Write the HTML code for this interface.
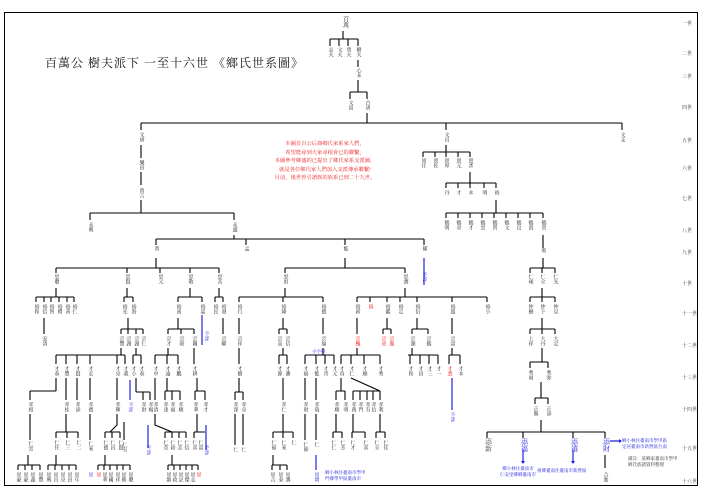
<!DOCTYPE html>
<html><head><meta charset="utf-8"><style>
body{margin:0;background:#fff}
#c{position:relative;width:702px;height:496px;overflow:hidden;background:#fff;font-family:"Liberation Serif","Noto Serif CJK SC","Noto Sans CJK SC",serif}
svg{position:absolute;left:0;top:0}
i{position:absolute;font-style:normal;writing-mode:vertical-rl;font-size:5px;line-height:5px;transform:translateX(-2.5px);color:#222;white-space:nowrap}
i.r{color:#e00}i.b{color:#22d}
.g{position:absolute;left:682px;font-size:5px;color:#333}
.t{position:absolute;left:45px;top:54px;font-size:12px;letter-spacing:1px;color:#111}
.red{position:absolute;left:268px;top:140px;width:114px;text-align:center;font-size:5.3px;line-height:8.5px;color:#e22}
.nb{position:absolute;font-size:4.5px;line-height:6px;color:#22d}
</style></head><body><div id="c">
<svg width="702" height="496">
<rect x="4.5" y="12.5" width="693" height="473" fill="none" stroke="#000" stroke-width="1"/>
<path fill="none" stroke="#000" stroke-width="1.1" d="
M343 31V39M330 39H358M330 39V46M339 39V46M348 39V46M358 39V46
M358 60V67M358 80V92M350 92H367M350 92V99M367 92V99
M367 113V123M141 123H622M141 123V130M446 123V130M622 123V130
M141 145V158M141 172V185M141 200V213M90 213H234M90 213V220M234 213V220M234 235V239M156 239H424M156 239V245M246 239V245M345 239V245M424 239V245
M446 145V152M423 152H470M423 152V157M435 152V157M446 152V157M458 152V157M470 152V157
M470 172V183M446 183H496M446 183V188M458 183V188M470 183V188M484 183V188M496 183V188
M496 200V213M446 213H543M446 213V218M458 213V218M470 213V218M482 213V218M494 213V218M506 213V218M518 213V218M530 213V218M543 213V218M543 235V248
M156 258V268M56 268H219M56 268V273M127 268V273M160 268V273M190 268V273M219 268V273
M345 258V268M285 268H405M285 268V273M405 268V273
M543 258V268M530 268H555M530 268V273M542 268V273M555 268V273
M56 288V297M36 297H74M36 297V302M44 297V302M51 297V302M59 297V302M67 297V302M74 297V302
M127 288V297M124 297H133M124 297V302M133 297V302
M190 288V297M178 297H202M178 297V302M202 297V302
M219 288V297M215 297H223M215 297V302M223 297V302
M285 288V297M239 297H323M239 297V302M283 297V302M323 297V302
M405 288V297M357 297H487M357 297V302M370 297V302M387 297V302M400 297V302M417 297V302M452 297V302M487 297V302
M542 288V297M530 297H555M530 297V302M542 297V302M555 297V302
M44 318V334M128 318V329M121 329H143M121 329V334M128 329V334M136 329V334M143 329V334
M178 318V329M168 329H194M168 329V334M181 329V334M194 329V334
M223 318V334M239 318V334M283 318V329M279 329H287M279 329V334M287 329V334M323 318V334M357 318V334
M387 318V329M383 329H391M383 329V334M391 329V334M417 318V329M412 329H428M412 329V334M428 329V334M452 318V334
M542 318V329M530 329H555M530 329V334M542 329V334M555 329V334
M121 348V355M56 355H125M56 355V364M66 355V364M77 355V364M90 355V364M117 355V364M125 355V364M136 348V355M133 355H141M133 355V364M141 355V364
M168 348V355M155 355H178M155 355V364M167 355V364M178 355V364M194 348V364
M239 348V364M283 348V355M279 355H287M279 355V364M287 355V364
M323 348V355M305 355H334M305 355V364M316 355V364M325 355V364M334 355V364
M357 348V355M341 355H380M341 355V364M351 355V364M364 355V364M380 355V364
M412 348V355M408 355H438M410 355V364M420 355V364M429 355V364M438 355V364
M452 348V355M449 355H460M449 355V364M460 355V364
M542 348V362M530 362H548M530 362V368M548 362V368M541 382V398M535 398H548M535 398V404M548 398V404
M56 378V391M30 391H56M30 391V400M66 378V400M77 378V400M90 378V400M117 378V400
M136 378V392M136 392H150M143 392V400M150 392V400
M155 378V400M167 378V391M165 391H180M165 391V400M172 391V400M180 391V400
M197 378V391M195 391H205M195 391V400M205 391V400
M239 378V392M235 392H243M235 392V400M243 392V400M283 378V400M305 378V400M316 378V400
M341 378V391M336 391H345M336 391V400M345 391V400M351 378L380 391M353 391H380M353 391V400M360 391V400M367 391V400M373 391V400M380 391V400
M30 414V440M66 414V432M56 432H78M56 432V438M67 432V438M78 432V438M90 414V440
M117 414V425L110 432M105 432H120M105 432V438M112 432V438M120 432V438M124 422V440
M155 414V425L172 432M165 432H186M165 432V438M172 432V438M179 432V438M186 432V438
M197 414V432M194 432H205M194 432V438
M235 414V445M243 414V445M283 414V432M273 432H293M273 432V438M283 432V438M293 432V438
M305 414V440M316 414V440
M336 414V432M333 432H342M333 432V438M342 432V438M353 414V432M352 432H365M352 432V438M365 432V438M380 414V432M376 432H385M376 432V438M385 432V438
M541 420V432M487 432H605M487 432V438M523 432V438M573 432V438M605 432V438
M28 455V465M18 465H40M18 465V470M25 465V470M32 465V470M40 465V470
M56 455V465M48 465H76M48 465V470M55 465V470M62 465V470M69 465V470M76 465V470
M105 455V465M98 465H130M98 465V470M104 465V470M110 465V470M117 465V470M123 465V470M130 465V470
M172 455V465M168 465H198M168 465V470M174 465V470M180 465V470M186 465V470M192 465V470M198 465V470
M273 455V465M272 465H287M272 465V470M280 465V470M287 465V470M605 455V468
"/>
<path fill="none" stroke="#22d" stroke-width="1.2" d="M424 258V285M202 315V345M452 378V410M130 380V400M148 425V448M206 425V450M316 455V470M523 450V462M573 450V462M610 441H620"/>
<path fill="#22d" d="M521 461h4l-2 3zM571 461h4l-2 3zM619 439v4l3-2z"/>
</svg>
<div class="t">百萬公 樹夫派下 一至十六世 《鄉氏世系圖》</div>
<div class="red">本圖首百公后裔鄉氏家系家人們，<br>希望能尋到大家尋根會已的聯繫，<br>本圖參考鄉盛的已提出了鄉氏家系支派圖，<br>就是各位鄉氏家人們加入支派傳承聯繫!<br>目前，後世曾引譜族的族系已到二十九世。</div>
<span class="g" style="top:20px">一世</span><span class="g" style="top:50px">二世</span><span class="g" style="top:73px">三世</span><span class="g" style="top:104px">四世</span><span class="g" style="top:137px">五世</span><span class="g" style="top:165px">六世</span><span class="g" style="top:195px">七世</span><span class="g" style="top:227px">八世</span><span class="g" style="top:249px">九世</span><span class="g" style="top:280px">十世</span><span class="g" style="top:310px">十一世</span><span class="g" style="top:342px">十二世</span><span class="g" style="top:374px">十三世</span><span class="g" style="top:406px">十四世</span><span class="g" style="top:445px">十五世</span><span class="g" style="top:478px">十六世</span>
<i style="left:343px;top:16px;font-size:6px;line-height:8px">百萬</i>
<i style="left:330px;top:47px">志夫</i><i style="left:339px;top:47px">文夫</i><i style="left:348px;top:47px">勇夫</i><i style="left:358px;top:47px">樹夫</i>
<i style="left:358px;top:68px">心本</i><i style="left:350px;top:100px">文富</i><i style="left:367px;top:100px">古唐</i>
<i style="left:141px;top:132px">文唐</i><i style="left:446px;top:132px">文昌</i><i style="left:622px;top:132px">文支</i>
<i style="left:141px;top:160px">樂田</i><i style="left:141px;top:188px">曾言</i><i style="left:90px;top:222px">永興</i><i style="left:234px;top:222px">永盛</i>
<i style="left:423px;top:158px">周任</i><i style="left:435px;top:158px">恩佐</i><i style="left:446px;top:158px">恩厚</i><i style="left:458px;top:158px">恩元</i><i style="left:470px;top:158px">恩彥</i>
<i style="left:446px;top:190px">丹</i><i style="left:458px;top:190px">才</i><i style="left:470px;top:190px">本</i><i style="left:484px;top:190px">明</i><i style="left:496px;top:190px">裕</i>
<i style="left:446px;top:220px">鶴明</i><i style="left:458px;top:220px">鶴章</i><i style="left:470px;top:220px">鶴才</i><i style="left:482px;top:220px">鶴雲</i><i style="left:494px;top:220px">鶴習</i><i style="left:506px;top:220px">鶴文</i><i style="left:518px;top:220px">鶴良</i><i style="left:530px;top:220px">鶴貴</i><i style="left:543px;top:220px">鶴常</i>
<i style="left:156px;top:246px">曾</i><i style="left:246px;top:246px">孟</i><i style="left:345px;top:246px">能</i><i style="left:424px;top:246px">耀</i><i style="left:543px;top:248px">聖</i>
<i class="b" style="left:424px;top:272px">不詳</i>
<i style="left:56px;top:274px">思聰</i><i style="left:127px;top:274px">思賢</i><i style="left:160px;top:274px">思元</i><i style="left:190px;top:274px">思敬</i><i style="left:219px;top:274px">思其</i><i style="left:285px;top:274px">思祖</i><i style="left:405px;top:274px">思潤</i>
<i style="left:530px;top:274px">仁雍</i><i style="left:542px;top:274px">仁全</i><i style="left:555px;top:274px">仁先</i>
<i style="left:36px;top:304px">裕和</i><i style="left:44px;top:304px">裕信</i><i style="left:51px;top:304px">裕智</i><i style="left:59px;top:304px">裕禮</i><i style="left:67px;top:304px">裕善</i><i style="left:74px;top:304px">裕仁</i>
<i style="left:124px;top:304px">裕光</i><i style="left:133px;top:304px">裕海</i><i style="left:178px;top:304px">裕南</i><i style="left:202px;top:304px">裕嘉</i><i style="left:215px;top:304px">裕民</i><i style="left:223px;top:304px">裕發</i>
<i style="left:239px;top:304px">裕行</i><i style="left:283px;top:304px">裕隆</i><i style="left:323px;top:304px">裕寶</i>
<i style="left:357px;top:304px">裕新</i><i class="r" style="left:370px;top:304px">裕</i><i style="left:387px;top:304px">裕鑑</i><i style="left:400px;top:304px">裕定</i><i style="left:417px;top:304px">裕衍</i><i style="left:452px;top:304px">裕超</i><i style="left:487px;top:304px">裕小</i>
<i style="left:530px;top:304px">仲樹</i><i style="left:542px;top:304px">仲下</i><i style="left:555px;top:304px">仲見</i>
<i style="left:44px;top:336px">安清</i><i style="left:121px;top:336px">宗豐</i><i style="left:128px;top:336px">宗謝</i><i style="left:136px;top:336px">宗謝</i><i style="left:143px;top:336px">宗仁</i>
<i style="left:168px;top:336px">宗才</i><i style="left:181px;top:336px">宗昭</i><i style="left:194px;top:336px">宗關</i><i style="left:223px;top:336px">宗曜</i><i style="left:239px;top:336px">宗祥</i>
<i style="left:279px;top:336px">宗高</i><i style="left:287px;top:336px">宗信</i><i style="left:323px;top:336px">宗倫</i><i class="r" style="left:357px;top:336px">宗槐</i><i class="r" style="left:383px;top:336px">宗虎</i><i class="r" style="left:391px;top:336px">宗龍</i>
<i style="left:412px;top:336px">宗湖</i><i style="left:428px;top:336px">宗鶴</i><i style="left:452px;top:336px">宗富</i>
<i style="left:530px;top:336px">上祥</i><i style="left:542px;top:336px">大丹</i><i style="left:555px;top:336px">大定</i>
<i class="b" style="left:206px;top:331px">不詳</i>
<span class="nb" style="left:312px;top:349px">小字排</span>
<i style="left:56px;top:366px">才春</i><i style="left:66px;top:366px">才豐</i><i style="left:77px;top:366px">才賢</i><i style="left:90px;top:366px">才宏</i><i style="left:117px;top:366px">才亮</i><i style="left:125px;top:366px">才義</i><i style="left:133px;top:366px">才小</i><i style="left:141px;top:366px">才春</i>
<i style="left:155px;top:366px">才中</i><i style="left:167px;top:366px">才遠</i><i style="left:178px;top:366px">才鵬</i><i style="left:194px;top:366px">才耕</i><i style="left:239px;top:366px">才樹</i>
<i style="left:279px;top:366px">才源</i><i style="left:287px;top:366px">才潮</i><i style="left:305px;top:366px">才福</i><i style="left:316px;top:366px">才能</i><i style="left:325px;top:366px">才青</i><i style="left:334px;top:366px">才元</i>
<i style="left:341px;top:366px">才真</i><i style="left:351px;top:366px">才仁</i><i style="left:364px;top:366px">才順</i><i style="left:380px;top:366px">才秀</i>
<i style="left:410px;top:366px">才和</i><i style="left:420px;top:366px">才田</i><i style="left:429px;top:366px">才三</i><i style="left:438px;top:366px">才一</i><i class="r" style="left:449px;top:366px">才悉</i><i style="left:460px;top:366px">才本</i>
<i style="left:530px;top:370px">秀雨</i><i style="left:548px;top:370px">秀弥</i>
<i style="left:30px;top:402px">孝相</i><i style="left:66px;top:402px">孝桂</i><i style="left:77px;top:402px">孝添</i><i style="left:90px;top:402px">孝寶</i><i style="left:117px;top:402px">孝輝</i><i class="b" style="left:130px;top:402px">不詳</i>
<i style="left:143px;top:402px">孝財</i><i style="left:150px;top:402px">孝楊</i><i style="left:155px;top:402px">孝清</i><i style="left:165px;top:402px">孝達</i><i style="left:172px;top:402px">孝福</i><i style="left:180px;top:402px">孝順</i><i style="left:195px;top:402px">孝華</i><i style="left:205px;top:402px">孝才</i>
<i style="left:235px;top:402px">孝深</i><i style="left:243px;top:402px">孝亮</i><i style="left:283px;top:402px">孝仁</i><i style="left:305px;top:402px">孝財</i><i style="left:316px;top:402px">孝瑞</i>
<i style="left:336px;top:402px">孝順</i><i style="left:345px;top:402px">孝明</i><i style="left:353px;top:402px">孝典</i><i style="left:360px;top:402px">孝門</i><i style="left:367px;top:402px">孝有</i><i style="left:373px;top:402px">孝信</i><i style="left:380px;top:402px">孝利</i>
<i class="b" style="left:452px;top:412px">不詳</i>
<i style="left:535px;top:406px">正賜</i><i style="left:548px;top:406px">正添</i>
<i style="left:30px;top:441px">仁雲</i><i style="left:56px;top:440px">仁任</i><i style="left:67px;top:440px">仁三</i><i style="left:78px;top:440px">仁二</i><i style="left:90px;top:441px">仁來</i>
<i style="left:105px;top:440px">仁寶</i><i style="left:112px;top:440px">仁昌</i><i style="left:120px;top:440px">仁賢</i><i style="left:124px;top:442px">仁有</i><i class="b" style="left:148px;top:445px">不詳</i>
<i style="left:165px;top:440px">仁英</i><i style="left:172px;top:440px">仁政</i><i style="left:179px;top:440px">仁美</i><i style="left:186px;top:440px">仁信</i><i style="left:194px;top:440px">仁喜</i><i style="left:200px;top:440px">仁富</i><i class="b" style="left:206px;top:445px">不詳</i>
<i style="left:235px;top:447px">仁</i><i style="left:243px;top:447px">仁</i><i style="left:273px;top:440px">仁福</i><i style="left:283px;top:440px">仁來</i><i style="left:293px;top:440px">仁</i><i style="left:305px;top:442px">仁伸</i><i style="left:316px;top:442px">仁</i>
<i style="left:333px;top:440px">仁仁</i><i style="left:342px;top:440px">仁芳</i><i style="left:352px;top:440px">仁才</i><i style="left:365px;top:440px">仁喜</i><i style="left:376px;top:440px">仁全</i><i style="left:385px;top:440px">仁佳</i>
<i class="b" style="left:487px;top:438px;font-size:7px;line-height:8px;color:#444">添新</i><i class="b" style="left:523px;top:438px;font-size:7px;line-height:8px">添福</i><i class="b" style="left:573px;top:438px;font-size:7px;line-height:8px">添禧</i><i class="b" style="left:605px;top:438px;font-size:7px;line-height:8px">添財</i>
<span class="nb" style="left:622px;top:438px">鄉小林住臺南市學甲區<br>定居臺南市新營區台南</span>
<span class="nb" style="left:500px;top:466px;text-align:center">鄉小林住臺南市<br>仁安里鄉鄉臺南市</span>
<span class="nb" style="left:537px;top:468px">祖鄉臺南住臺南市新營區</span>
<span class="nb" style="left:325px;top:470px">鄉小林住臺南市學甲<br>門鄉學甲區臺南市</span>
<span class="nb" style="left:628px;top:456px;color:#333">備註：某鄉家臺南市學甲<br>鄉氏族譜資料整理</span>
<i style="left:605px;top:472px">合進</i>
<i style="left:18px;top:472px">星豪</i><i style="left:25px;top:472px">星豪</i><i style="left:32px;top:472px">星鑫</i><i style="left:40px;top:472px">星豐</i>
<i style="left:48px;top:472px">星興</i><i style="left:55px;top:472px">星昌</i><i style="left:62px;top:472px">星亮</i><i style="left:69px;top:472px">星田</i><i style="left:76px;top:472px">星年</i><i class="b" style="left:90px;top:472px">星</i>
<i class="r" style="left:98px;top:472px">星</i><i style="left:104px;top:472px">星華</i><i style="left:110px;top:472px">星國</i><i style="left:117px;top:472px">星祥</i><i style="left:123px;top:472px">星勝</i><i style="left:130px;top:472px">星聰</i>
<i style="left:168px;top:472px">星維</i><i style="left:174px;top:472px">星政</i><i style="left:180px;top:472px">星記</i><i style="left:186px;top:472px">星傑</i><i style="left:192px;top:472px">星志</i><i class="r" style="left:198px;top:472px">星</i>
<i style="left:272px;top:472px">星合</i><i style="left:280px;top:472px">星泰</i><i style="left:287px;top:472px">星潤</i><i class="b" style="left:316px;top:472px">星增</i>
</div></body></html>
